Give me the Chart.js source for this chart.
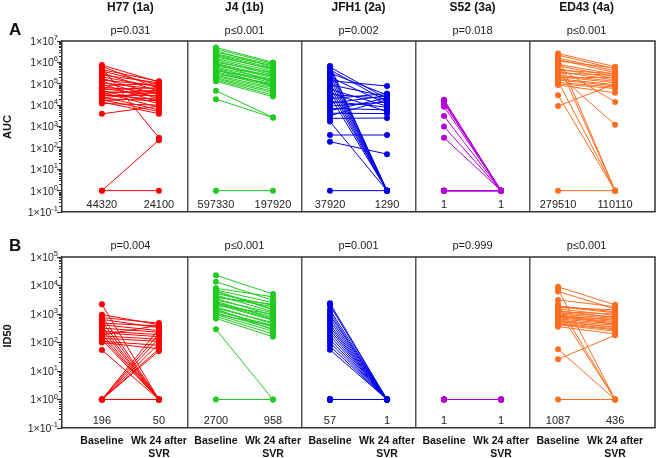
<!DOCTYPE html>
<html>
<head>
<meta charset="utf-8">
<script src="https://cdn.jsdelivr.net/npm/chart.js@4/dist/chart.umd.min.js"></script>
<style>
  html, body { margin: 0; padding: 0; background: #fff; }
  #wrap { position: relative; width: 658px; height: 458px; }
  .row { position: absolute; left: 0; width: 658px; }
  #rowA { top: 0; height: 228px; }
  #rowB { top: 228px; height: 230px; }
</style>
</head>
<body>
<div id="wrap">
  <div class="row" id="rowA"><canvas id="aucChart" width="658" height="228"></canvas></div>
  <div class="row" id="rowB"><canvas id="id50Chart" width="658" height="230"></canvas></div>
</div>
<script>
const viruses = ["H77 (1a)", "J4 (1b)", "JFH1 (2a)", "S52 (3a)", "ED43 (4a)"];
const colors = ["#ff0000", "#1fcc1f", "#0000e8", "#b400d8", "#ff6d1f"];
const timepoints = ["Baseline", ["Wk 24 after", "SVR"]];

const aucP = ["p=0.031", "p\u22640.001", "p=0.002", "p=0.018", "p\u22640.001"];
const aucBaseMedian = ["44320", "597330", "37920", "1", "279510"];
const aucWkMedian = ["24100", "197920", "1290", "1", "110110"];
const id50P = ["p=0.004", "p\u22640.001", "p=0.001", "p=0.999", "p\u22640.001"];
const id50BaseMedian = ["196", "2700", "57", "1", "1087"];
const id50WkMedian = ["50", "958", "1", "1", "436"];

// AUC, one entry per patient (baseline / week 24)
const h77AucBase = [7.5e5, 6.5e5, 5.5e5, 4.6e5, 3.9e5, 3.2e5, 2.6e5, 2.1e5, 1.8e5, 1.5e5, 1.3e5, 1.1e5, 9.5e4, 8.2e4, 7e4, 6.2e4, 5.4e4, 4.8e4, 4.3e4, 3.9e4, 3.5e4, 3.1e4, 2.8e4, 2.5e4, 2.2e4, 2e4, 1.8e4, 1.6e4, 1.4e4, 1.2e4, 3.9e3, 1, 1];
const h77AucWk = [1.2e5, 6e4, 300, 1.3e5, 9e4, 4.5e4, 1.1e5, 7e4, 3e4, 8e4, 2e4, 5.5e4, 1.4e4, 1e5, 4e4, 2.5e4, 6.5e4, 1.2e4, 3.5e4, 8e3, 5e4, 1.8e4, 2.8e4, 6e3, 4.2e4, 1.6e4, 5e3, 2.2e4, 4e3, 1e4, 9e3, 230, 1];
const j4AucBase = [5e6, 4.2e6, 3.5e6, 3e6, 2.5e6, 2.1e6, 1.8e6, 1.55e6, 1.35e6, 1.15e6, 1e6, 8.8e5, 7.8e5, 6.8e5, 6e5, 5.3e5, 4.7e5, 4.1e5, 3.6e5, 3.2e5, 2.8e5, 2.5e5, 2.2e5, 1.9e5, 1.7e5, 1.5e5, 1.3e5, 4.7e4, 1.9e4, 1, 2.3e6, 9e5, 4.4e5];
const j4AucWk = [1e6, 9e5, 6e5, 8e5, 7e5, 4.5e5, 5e5, 3.8e5, 3e5, 2.6e5, 3.4e5, 2.2e5, 1.9e5, 2.4e5, 1.6e5, 1.3e5, 1.1e5, 1.5e5, 9e4, 7.5e4, 1e5, 6.5e4, 5.5e4, 4.5e4, 3.8e4, 3e4, 2.5e4, 2.7e3, 2.6e3, 1, 5.5e5, 1.2e5, 8e4];
const jfh1AucBase = [6.8e5, 6e5, 5.2e5, 4.5e5, 3.8e5, 3.2e5, 2.6e5, 2.1e5, 1.7e5, 1.4e5, 1.1e5, 9e4, 7e4, 5.5e4, 4.5e4, 3.8e4, 3.2e4, 2.6e4, 2e4, 1.5e4, 1.2e4, 9e3, 7e3, 5.5e3, 4.2e3, 3.2e3, 2.4e3, 1.7e3, 400, 195, 1];
const jfh1AucWk = [1, 2e4, 1, 1.5e4, 1, 3e4, 1, 1.1e4, 1, 7.8e4, 1, 2.5e4, 1, 9e3, 1, 5e3, 2e4, 1, 3.5e4, 8e3, 2.8e4, 1.4e4, 6e3, 2.2e4, 4e3, 1.8e4, 2.5e3, 1, 400, 51, 1];
const s52AucBase = [1.8e4, 1.6e4, 1.4e4, 1.2e4, 8.5e3, 3.1e3, 1e3, 300, 1, 1, 1, 1, 1, 1, 1, 1, 1, 1];
const s52AucWk = [1, 1, 1, 1, 1, 1, 1, 1, 1, 1, 1, 1, 1, 1, 1, 1, 1, 1];
const ed43AucBase = [2.6e6, 2.2e6, 1.9e6, 1.6e6, 1.35e6, 1.15e6, 9.5e5, 8e5, 6.8e5, 5.8e5, 5e5, 4.3e5, 3.7e5, 3.2e5, 2.8e5, 2.5e5, 2.2e5, 1.9e5, 1.7e5, 1.5e5, 1.3e5, 1.15e5, 1e5, 8.7e4, 2.9e4, 9e3, 1];
const ed43AucWk = [6.3e5, 5e5, 1, 4e5, 3.3e5, 5.5e5, 1, 2.8e5, 2.2e5, 1.4e4, 1.8e5, 3e5, 1.5e5, 2.5e5, 1.2e3, 1.3e5, 1.1e5, 2e5, 9e4, 8e4, 1, 7e4, 6e4, 3.8e4, 1, 1e5, 1];

// ID50
const h77IdBase = [2.2e3, 950, 850, 750, 650, 560, 480, 420, 370, 320, 280, 250, 220, 200, 185, 170, 155, 140, 125, 110, 100, 55, 1, 1, 1, 1, 1, 1, 1];
const h77IdWk = [1, 420, 1, 480, 330, 1, 380, 260, 1, 230, 1, 190, 160, 1, 400, 130, 1, 110, 1, 80, 60, 1, 300, 200, 140, 90, 60, 50, 1];
const j4IdBase = [2.3e4, 1.35e4, 8e3, 7e3, 6e3, 5.2e3, 4.6e3, 4e3, 3.5e3, 3.1e3, 2.8e3, 2.5e3, 2.2e3, 2e3, 1.8e3, 1.6e3, 1.4e3, 1.25e3, 1.1e3, 950, 820, 700, 290, 1, 3.8e3, 2.4e3, 1.5e3, 1e3, 6.5e3];
const j4IdWk = [5e3, 3e3, 4e3, 2.5e3, 1.5e3, 2e3, 1.2e3, 1.8e3, 900, 1.1e3, 700, 800, 600, 1e3, 450, 500, 350, 400, 300, 250, 200, 160, 1, 1, 2.2e3, 650, 280, 380, 1.4e3];
const jfh1IdBase = [2.4e3, 2e3, 1.4e3, 1.1e3, 900, 700, 550, 430, 350, 280, 220, 170, 130, 100, 75, 56, 1, 1, 1, 1, 1, 1, 1, 1, 1, 1, 1, 1, 1, 1, 1];
const jfh1IdWk = [1, 1, 1, 1, 1, 1, 1, 1, 1, 1, 1, 1, 1, 1, 1, 1, 1, 1, 1, 1, 1, 1, 1, 1, 1, 1, 1, 1, 1, 1, 1];
const s52IdBase = [1, 1, 1, 1, 1, 1];
const s52IdWk = [1, 1, 1, 1, 1, 1];
const ed43IdBase = [9e3, 7.5e3, 6.2e3, 3.1e3, 2.2e3, 1.9e3, 1.7e3, 1.5e3, 1.35e3, 1.2e3, 1.1e3, 1e3, 900, 820, 740, 670, 600, 540, 480, 420, 360, 58, 26, 1, 1.8e3, 1.3e3, 950, 780, 560, 450];
const ed43IdWk = [2.1e3, 1, 1.5e3, 1.8e3, 1, 1.2e3, 1.4e3, 900, 1, 1e3, 800, 700, 600, 650, 500, 450, 400, 350, 300, 250, 200, 1, 180, 1, 1.1e3, 750, 420, 550, 330, 280];

const FONT = 'Arial, "Liberation Sans", Helvetica, sans-serif';

// each patient is its own 2-point line
function makeDatasets(bases, wks) {
  let ds = [];
  bases.forEach((base, i) => {
    base.forEach((b, k) => {
      ds.push({
        data: [{ x: i * 2, y: b }, { x: i * 2 + 1, y: wks[i][k] }],
        borderColor: colors[i],
        backgroundColor: colors[i],
        borderWidth: 1,
        pointRadius: 3,
        pointHoverRadius: 3,
        pointBorderWidth: 0
      });
    });
  });
  return ds;
}

// dividers at half positions, category ticks at integers
const xTicks = [0, 1, 1.5, 2, 3, 3.5, 4, 5, 5.5, 6, 7, 7.5, 8, 9];

function decor(cfg) {
  return {
    id: "decor",
    afterDraw(chart) {
      const ctx = chart.ctx, x = chart.scales.x, y = chart.scales.y, a = chart.chartArea;
      ctx.save();
      // box top + right
      ctx.strokeStyle = "#333";
      ctx.lineWidth = 1.5;
      ctx.beginPath();
      ctx.moveTo(a.left, a.top);
      ctx.lineTo(a.right, a.top);
      ctx.lineTo(a.right, a.bottom);
      ctx.stroke();

      // minor log ticks
      ctx.lineWidth = 1;
      ctx.beginPath();
      for (let e = cfg.eMin; e < cfg.eMax; e++) {
        for (let k = 2; k <= 9; k++) {
          const py = Math.round(y.getPixelForValue(k * Math.pow(10, e))) + 0.5;
          ctx.moveTo(a.left - 3, py);
          ctx.lineTo(a.left, py);
        }
      }
      ctx.stroke();

      // y labels 1x10^n
      ctx.fillStyle = "#222";
      ctx.textBaseline = "middle";
      for (let e = cfg.eMin; e <= cfg.eMax; e++) {
        const py = y.getPixelForValue(Math.pow(10, e));
        const es = String(e);
        ctx.font = "7.5px " + FONT;
        const ew = ctx.measureText(es).width;
        ctx.textAlign = "left";
        ctx.fillText(es, 58 - ew, py - 3);
        ctx.font = "10.5px " + FONT;
        ctx.textAlign = "right";
        ctx.fillText("1\u00d710", 58 - ew, py + 1);
      }

      // y axis title
      ctx.save();
      ctx.translate(8, cfg.yTitleY);
      ctx.rotate(-Math.PI / 2);
      ctx.textAlign = "center";
      ctx.fillStyle = "#111";
      ctx.font = "bold 11px " + FONT;
      ctx.fillText(cfg.yTitle, 0, 0);
      ctx.restore();

      ctx.textAlign = "center";
      viruses.forEach((v, i) => {
        const cx = x.getPixelForValue(i * 2 + 0.5);
        if (cfg.titles) {
          ctx.font = "bold 12px " + FONT;
          ctx.fillStyle = "#111";
          ctx.fillText(v, cx, cfg.titleY);
        }
        ctx.fillStyle = "#222";
        ctx.font = "11px " + FONT;
        ctx.fillText(cfg.p[i], cx, cfg.pY);
        ctx.fillText(cfg.baseMed[i], x.getPixelForValue(i * 2), cfg.medY);
        ctx.fillText(cfg.wkMed[i], x.getPixelForValue(i * 2 + 1), cfg.medY);
      });

      // panel letter
      ctx.fillStyle = "#111";
      ctx.textAlign = "left";
      ctx.font = "bold 17px " + FONT;
      ctx.fillText(cfg.letter, 9, cfg.letterY);
      ctx.restore();
    }
  };
}

function makeOptions(cfg) {
  return {
    responsive: false,
    animation: false,
    events: [],
    layout: { padding: { top: cfg.padTop, right: 2, left: 0, bottom: 0 } },
    plugins: { legend: { display: false }, tooltip: { enabled: false } },
    scales: {
      x: {
        type: "linear",
        min: -0.7,
        max: 9.7,
        afterBuildTicks: (s) => { s.ticks = xTicks.map((v) => ({ value: v })); },
        afterFit: (s) => { s.height = cfg.xHeight; },
        grid: {
          drawTicks: false,
          lineWidth: 1.5,
          color: (c) => (c.tick && c.tick.value % 1 !== 0 ? "#555" : "rgba(0,0,0,0)")
        },
        border: { color: "#333", width: 1.5 },
        ticks: {
          display: cfg.showX,
          autoSkip: false,
          maxRotation: 0,
          minRotation: 0,
          padding: 7,
          color: "#111",
          font: { family: FONT, size: 10.5, weight: "bold" },
          callback: (v) => (v % 1 === 0 ? timepoints[v % 2] : "")
        }
      },
      y: {
        type: "logarithmic",
        min: Math.pow(10, cfg.eMin),
        max: Math.pow(10, cfg.eMax),
        afterBuildTicks: (s) => {
          let t = [];
          for (let e = cfg.eMin; e <= cfg.eMax; e++) t.push({ value: Math.pow(10, e), major: true });
          s.ticks = t;
        },
        afterFit: (s) => { s.width = 62; },
        grid: { drawOnChartArea: false, drawTicks: true, tickLength: 5, tickColor: "#333", tickWidth: 1.2 },
        border: { color: "#333", width: 1.5 },
        ticks: { display: false }
      }
    }
  };
}

const aucCfg = {
  padTop: 41, xHeight: 16, showX: false, eMin: -1, eMax: 7, yTitle: "AUC", yTitleY: 127,
  titles: true, titleY: 8, pY: 31, medY: 205, letter: "A", letterY: 30,
  p: aucP, baseMed: aucBaseMedian, wkMed: aucWkMedian
};
const id50Cfg = {
  padTop: 29, xHeight: 30, showX: true, eMin: -1, eMax: 5, yTitle: "ID50", yTitleY: 108,
  titles: false, pY: 18, medY: 193, letter: "B", letterY: 18,
  p: id50P, baseMed: id50BaseMedian, wkMed: id50WkMedian
};

new Chart(document.getElementById("aucChart"), {
  type: "line",
  data: {
    datasets: makeDatasets(
      [h77AucBase, j4AucBase, jfh1AucBase, s52AucBase, ed43AucBase],
      [h77AucWk, j4AucWk, jfh1AucWk, s52AucWk, ed43AucWk]
    )
  },
  options: makeOptions(aucCfg),
  plugins: [decor(aucCfg)]
});

new Chart(document.getElementById("id50Chart"), {
  type: "line",
  data: {
    datasets: makeDatasets(
      [h77IdBase, j4IdBase, jfh1IdBase, s52IdBase, ed43IdBase],
      [h77IdWk, j4IdWk, jfh1IdWk, s52IdWk, ed43IdWk]
    )
  },
  options: makeOptions(id50Cfg),
  plugins: [decor(id50Cfg)]
});
</script>
</body>
</html>
